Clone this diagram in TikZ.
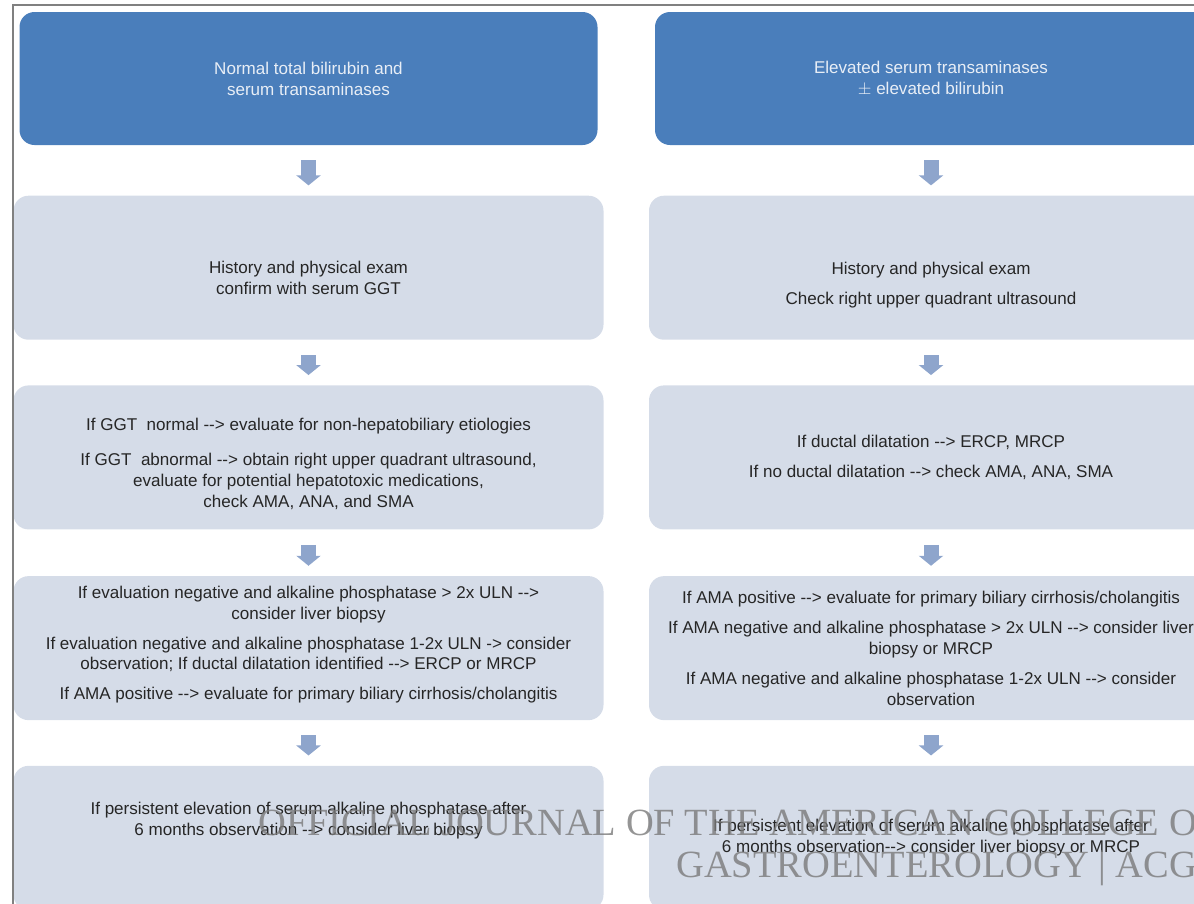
\documentclass[tikz,border=0pt]{standalone}
\usepackage{fontspec}
\setmainfont{Liberation Sans}
\newfontfamily\wmfont{Liberation Serif}
\usetikzlibrary{arrows.meta,positioning}
\definecolor{headblue}{HTML}{4A7EBB}
\definecolor{stepgrey}{HTML}{D5DCE8}
\definecolor{arrowblue}{HTML}{8EA5CC}
\definecolor{frameline}{HTML}{808080}
\definecolor{headtext}{HTML}{E8EEF6}
\definecolor{marktext}{HTML}{7A7A7A}
\newcommand{\dto}{\mbox{-}\mbox{-}>}
% invisible struts to push a box text down or up
\newcommand{\padtop}[1]{\rule{0pt}{#1}}
\newcommand{\padbot}[1]{\rule[-#1]{0pt}{#1}}

\begin{document}
\begin{tikzpicture}[
  headbox/.style={fill=headblue,rounded corners=0.3cm,minimum height=2.66cm,
                  align=center,text=headtext,font=\fontsize{9.7}{11.9}\selectfont},
  stepbox/.style={fill=stepgrey,rounded corners=0.3cm,minimum height=2.88cm,
                  align=center,text=black!85,font=\fontsize{9.7}{11.9}\selectfont},
  flow/.style={-{Triangle[width=0.48cm,length=0.2cm]},line width=0.3cm,draw=arrowblue,
               shorten <=0.3cm,shorten >=0.2cm},
  wmark/.style={font=\wmfont\fontsize{21.9}{24}\selectfont,text=marktext,
                text opacity=0.8,anchor=base west,inner sep=0pt}
]
\useasboundingbox (0,0) rectangle (23.88,-18.06);
\clip (0,0) rectangle (23.88,-18.06);

% left column
\node[headbox,minimum width=11.56cm] (lhead) at (6.17,-1.57)
     {Normal total bilirubin and\\serum transaminases};
\node[stepbox,minimum width=11.8cm,below=1.0cm of lhead] (lhist)
     {\padtop{0.65cm}History and physical exam\\confirm with serum GGT};
\node[stepbox,minimum width=11.8cm,below=0.9cm of lhist] (lggt)
     {\padtop{0.5cm}If GGT~ normal \dto{} evaluate for non-hepatobiliary etiologies\\[0.28cm]
      If GGT~ abnormal \dto{} obtain right upper quadrant ultrasound,\\
      evaluate for potential hepatotoxic medications,\\
      check AMA, ANA, and SMA};
\node[stepbox,minimum width=11.8cm,below=0.92cm of lggt] (leval)
     {If evaluation negative and alkaline phosphatase > 2x ULN \dto\\
      consider liver biopsy\\[0.18cm]
      If evaluation negative and alkaline phosphatase 1-2x ULN -> consider\\
      observation; If ductal dilatation identified \dto{} ERCP or MRCP\\[0.18cm]
      If AMA positive \dto{} evaluate for primary biliary cirrhosis/cholangitis\padbot{0.21cm}};
\node[stepbox,minimum width=11.8cm,below=0.9cm of leval] (lpers)
     {If persistent elevation of serum alkaline phosphatase after\\
      6 months observation \dto{} consider liver biopsy\padbot{0.75cm}};

% right column
\node[headbox,minimum width=11.04cm] (rhead) at (18.62,-1.57)
     {Elevated serum transaminases\\$\pm$ elevated bilirubin};
\node[stepbox,minimum width=11.28cm,below=1.0cm of rhead] (rhist)
     {\padtop{0.93cm}History and physical exam\\[0.18cm]Check right upper quadrant ultrasound};
\node[stepbox,minimum width=11.28cm,below=0.9cm of rhist] (rduct)
     {If ductal dilatation \dto{} ERCP, MRCP\\[0.18cm]
      If no ductal dilatation \dto{} check AMA, ANA, SMA};
\node[stepbox,minimum width=11.28cm,below=0.92cm of rduct] (rama)
     {If AMA positive \dto{} evaluate for primary biliary cirrhosis/cholangitis\\[0.18cm]
      If AMA negative and alkaline phosphatase > 2x ULN \dto{} consider liver\\
      biopsy or MRCP\\[0.18cm]
      If AMA negative and alkaline phosphatase 1-2x ULN \dto{} consider\\
      observation};
\node[stepbox,minimum width=11.28cm,below=0.9cm of rama] (rpers)
     {If persistent elevation of serum alkaline phosphatase after\\
      6 months observation\dto{} consider liver biopsy or MRCP};

\draw[flow] (lhead) -- (lhist);
\draw[flow] (lhist) -- (lggt);
\draw[flow] (lggt) -- (leval);
\draw[flow] (leval) -- (lpers);
\draw[flow] (rhead) -- (rhist);
\draw[flow] (rhist) -- (rduct);
\draw[flow] (rduct) -- (rama);
\draw[flow] (rama) -- (rpers);

% frame and watermark
\draw[frameline,line width=0.04cm] (0.25,-18.1) |- (23.9,-0.09);
\node[wmark] (wm1) at (5.16,-16.7) {OFFICIAL JOURNAL OF THE AMERICAN COLLEGE OF};
\node[wmark] (wm2) at (13.52,-17.54) {GASTROENTEROLOGY | ACG};
\end{tikzpicture}
\end{document}
